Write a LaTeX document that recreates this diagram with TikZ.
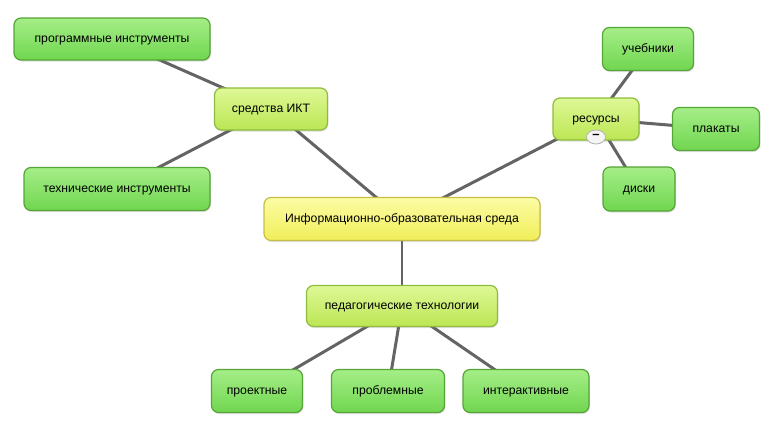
\documentclass[tikz,border=0pt]{standalone}
\usepackage{fontspec}
\setmainfont{Liberation Sans}
\usepackage{tikz}
\usetikzlibrary{positioning,shadows,backgrounds,shapes.geometric}
\definecolor{leafgreen}{RGB}{112,214,80}
\definecolor{leaftop}{RGB}{165,238,135}
\definecolor{leafedge}{RGB}{85,165,55}
\definecolor{limegreen}{RGB}{188,230,84}
\definecolor{limetop}{RGB}{222,248,150}
\definecolor{limeedge}{RGB}{142,188,62}
\definecolor{coreyellow}{RGB}{240,238,88}
\definecolor{coretop}{RGB}{252,252,165}
\definecolor{coreedge}{RGB}{198,190,70}
\definecolor{linkgray}{RGB}{100,100,100}
\tikzset{
  leaf/.style={rounded corners=7pt, draw=leafedge, line width=1.2pt, top color=leaftop, bottom color=leafgreen, align=center, minimum height=43pt, text height=8.5pt, text depth=2.5pt, font=\fontsize{12.2}{14}\selectfont, drop shadow={opacity=0.25, shadow xshift=0.8pt, shadow yshift=-1.5pt}},
  branch/.style={leaf, draw=limeedge, top color=limetop, bottom color=limegreen},
  core/.style={leaf, draw=coreedge, top color=coretop, bottom color=coreyellow},
  link/.style={line width=3pt, draw=linkgray},
}

\begin{document}
\begin{tikzpicture}[x=1pt,y=-1pt]
    \useasboundingbox (0,0) rectangle (770,424);
    % centre
    \node[core, minimum width=276pt] (env) at (402,219) {Информационно-образовательная среда};
    % branches
    \node[branch, minimum width=113pt, minimum height=42pt] (ict) at (271,109) {средства ИКТ};
    \node[branch, minimum width=86pt, minimum height=42pt] (res) at (596,119) {ресурсы};
    \node[branch, minimum width=191pt, minimum height=41pt] (ped) at (402,306) {педагогические технологии};
    % leaves
    \node[leaf, minimum width=196pt, minimum height=42pt] (soft) at (112,39) {программные инструменты};
    \node[leaf, minimum width=186pt] (hard) at (117,189) {технические инструменты};
    \node[leaf, minimum width=91pt] (books) at (648,49) {учебники};
    \node[leaf, minimum width=87pt] (posters) at (716,129) {плакаты};
    \node[leaf, minimum width=72pt, minimum height=44pt] (disks) at (639,189) {диски};
    \node[leaf, minimum width=91pt] (project) at (257,391) {проектные};
    \node[leaf, minimum width=113pt] (problem) at (388,391) {проблемные};
    \node[leaf, minimum width=126pt] (inter) at (526,391) {интерактивные};
    % collapse button
    \node[draw=gray!60, line width=0.8pt, fill=gray!8, ellipse, inner sep=0pt, minimum width=19pt, minimum height=14pt, font=\bfseries\fontsize{13}{13}\selectfont] (fold) at (596,137) {\raisebox{0.5pt}{--}};
    % links
    \begin{scope}[on background layer]
      \draw[link] (soft.center) -- (ict.center);
      \draw[link] (hard.center) -- (ict.center);
      \draw[link] (ict.center) -- (env.center);
      \draw[link] (env.center) -- (res.center);
      \draw[link] (res.center) -- (books.center);
      \draw[link] (res.center) -- (posters.center);
      \draw[link] (res.center) -- (disks.center);
      \draw[link, line width=2pt] (env.center) -- (ped.center);
      \draw[link] (ped.center) -- (project.center);
      \draw[link] (ped.center) -- (problem.center);
      \draw[link] (ped.center) -- (inter.center);
    \end{scope}
\end{tikzpicture}
\end{document}
